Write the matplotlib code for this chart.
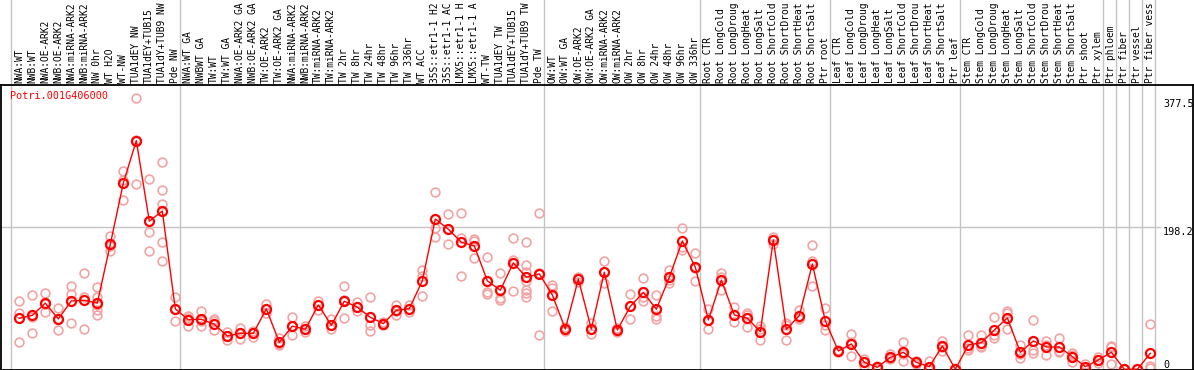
import matplotlib
matplotlib.use('Agg')
from matplotlib import pyplot as plt
from matplotlib import transforms

# sample names along the top (cut at 14 chars as in the source)
labels = [
  'NWA:WT', 'NWB:WT', 'NWA:OE-ARK2', 'NWB:OE-ARK2', 'NWA:miRNA-ARK2',
  'NWB:miRNA-ARK2', 'NW 0hr', 'WT H2O', 'WT-NW', 'TUA1dEY NW',
  'TUA1dEY+TUB15', 'TUA1dY+TUB9 NW', 'Pde NW',
  'NWA:WT GA', 'NWBWT GA', 'TW:WT', 'TW:WT GA', 'NWA:OE-ARK2 GA',
  'NWB:OE-ARK2 GA', 'TW:OE-ARK2', 'TW:OE-ARK2 GA', 'NWA:miRNA-ARK2',
  'NWB:miRNA-ARK2', 'TW:miRNA-ARK2', 'TW:miRNA-ARK2', 'TW 2hr', 'TW 8hr',
  'TW 24hr', 'TW 48hr', 'TW 96hr', 'TW 336hr', 'WT ACC', '35S::etr1-1 H2',
  '35S::etr1-1 AC', 'LMX5::etr1-1 H', 'LMX5::etr1-1 A', 'WT-TW',
  'TUA1dEY TW', 'TUA1dEY+TUB15', 'TUA1dY+TUB9 TW', 'Pde TW',
  'OW:WT', 'OW:WT GA', 'OW:OE-ARK2', 'OW:OE-ARK2 GA', 'OW:miRNA-ARK2',
  'OW:miRNA-ARK2', 'OW 2hr', 'OW 8hr', 'OW 24hr', 'OW 48hr', 'OW 96hr',
  'OW 336hr',
  'Root CTR', 'Root LongCold', 'Root LongDroug', 'Root LongHeat',
  'Root LongSalt', 'Root ShortCold', 'Root ShortDrou', 'Root ShortHeat',
  'Root ShortSalt', 'Ptr root',
  'Leaf CTR', 'Leaf LongCold', 'Leaf LongDroug', 'Leaf LongHeat',
  'Leaf LongSalt', 'Leaf ShortCold', 'Leaf ShortDrou', 'Leaf ShortHeat',
  'Leaf ShortSalt', 'Ptr leaf',
  'Stem CTR', 'Stem LongCold', 'Stem LongDroug', 'Stem LongHeat',
  'Stem LongSalt', 'Stem ShortCold', 'Stem ShortDrou', 'Stem ShortHeat',
  'Stem ShortSalt', 'Ptr shoot', 'Ptr xylem',
  'Ptr phloem', 'Ptr fiber', 'Ptr vessel', 'Ptr fiber vess',
]

means = [
  72, 76, 93, 71, 96, 97, 93, 175, 260, 319, 207, 221, 85,
  70, 70.5, 63.6, 47.3, 51, 51, 85, 38.5, 61, 56.6, 90.5, 62.2, 95.6,
  87.3, 73.3, 64.5, 83, 85.3, 124, 210, 195.8, 177.7, 172.6, 124, 111,
  149, 129, 133.6,
  104.4, 57, 126.6, 57, 136, 55.7, 88.6, 108, 84.5, 129, 179.5, 143,
  69.6, 125, 76.5, 72, 53.3, 181, 56.6, 75.6, 147.5, 68.2,
  26.4, 36.2, 10.7, 3.7, 17.6, 24.6, 10.7, 4.6, 33.4, 1,
  34.8, 38, 55.7, 72.4, 24.6, 40.4, 32, 32, 18.6, 4.6, 13.9,
  24.6, 1, 1, 23.2,
]

# replicate values per sample
reps = [
  [96, 79, 39.4], [104.4, 74.2, 51], [106.7, 91.4, 80.3], [85.8, 71.5, 55.7],
  [116.9, 105.8, 65.4], [135, 102, 57], [115, 102, 90.5, 83.5, 76],
  [186.9, 172, 166], [277, 264.4, 236.1], [378, 319.7, 258.4],
  [265.8, 191.6, 165.2], [289.5, 250.5, 231.4, 177.7, 151.3],
  [101.6, 85, 68.2],
  [75.6, 72, 61.2], [82.6, 68, 60.8], [70.5, 68.6, 55.7], [52.5, 47.3, 42.2],
  [58.9, 51.5, 42.7], [54.7, 52, 46.3], [91.4, 84.9, 79.7], [44.1, 36.6, 34.8],
  [73.3, 60.8, 48.3], [61.2, 56.6, 52.9], [96, 90.5, 83.5], [70.5, 62.2, 56.6],
  [116.9, 97.1, 72.8], [95, 87.3, 82.6], [101.2, 62.6, 54.7], [66.4, 64.5, 62.2],
  [90.5, 82.5, 76.1], [90.5, 85.3, 80.3], [139.2, 130.8, 103],
  [247.7, 197.2, 184.7], [216.7, 195.8, 174.9], [218.1, 184.1, 130.8],
  [182.3, 180.1, 155.4], [157.7, 108.2, 105.8], [135, 99.8, 97.4],
  [183.7, 153.1, 109.9], [177.7, 146.1, 136.8, 124.3, 111.3, 106.7, 101.6],
  [218.1, 134.4, 48.3],
  [118.3, 114.5, 82.1], [60, 57, 54], [130, 126.6, 123], [65, 57, 49.6],
  [151.3, 136, 120.6], [58, 55.7, 53], [105.8, 88.6, 71], [127.6, 101.2, 96],
  [104.4, 75.6, 71], [139.2, 125.2, 121.5], [197.2, 171.6, 167],
  [162.8, 142.5, 123.4],
  [84.9, 69.6, 57], [135.4, 129, 111.3], [88.1, 76.5, 66.4], [79.7, 76, 59.4],
  [61.2, 57, 41.7], [185.5, 180.9, 175.3], [65.5, 62.6, 41.7],
  [83.5, 72.8, 70.5], [174, 152.1, 116.9], [85.8, 63.1, 55.7],
  [28, 26.4, 25], [49.6, 39.5, 19.5], [14.9, 11, 6], [5.6, 3.7, 1.9],
  [21.8, 16, 14.9], [38.5, 22.8, 12.5], [12.9, 10.7, 8.3], [12.5, 1, 0.3],
  [40.8, 32, 26.9], [1, 1, 1],
  [48.3, 31, 27.8], [48.7, 33.7, 31.6], [73.3, 48.7, 44.1], [82.6, 78.9, 56.6],
  [34.8, 22.7, 16.3], [69.6, 27.8, 23.2], [40.8, 34.7, 20.5],
  [44.1, 26.4, 25.5], [23.2, 21, 11.6], [8.3, 2.8, 2.7], [18.6, 13.9, 9.3],
  [33.4, 32.4, 8.3], [1, 1, 1], [1, 1, 1], [63.6, 5.6, 2.8],
]

gene = 'Potri.001G406000'
group_ends = [-1, 12, 40, 52, 62, 72, 83, 84, 85, 86, 87]
ymax = 377.5
ymid = 198.2

W, H = 1194, 370
MONO = 'DejaVu Sans Mono'
FS = 6.9

fig = plt.figure(figsize=(W / 100, H / 100), dpi=100)
ax = fig.add_axes([1 / W, 0, 1192 / W, 285 / H])

for i, r in enumerate(reps):
  ax.plot([i] * len(r), r, 'o', mfc='none', mec='#f2a4a4', ms=6.3, mew=1.2,
          zorder=2, clip_on=False)
ax.plot(range(len(means)), means, '-', color='red', lw=1, zorder=3)
ax.plot(range(len(means)), means, 'o', mfc='none', mec='red', ms=6.5,
        mew=1.6, zorder=4)

ax.set_xlim(-1.408, 90.28)
ax.set_ylim(0, ymax * 1.05)
ax.set_xticks([])
ax.set_yticks([])
for s in ax.spines.values():
  s.set_color('black')
  s.set_linewidth(1.3)

ax.axhline(ymid, xmax=1159 / 1192, color='#c4c4c4', lw=1, zorder=1)
for g in group_ends:
  ax.axvline(g + 0.37, ymin=0, ymax=H / 285, color='#c4c4c4', lw=1,
             clip_on=False, zorder=1)

top = transforms.blended_transform_factory(ax.transData, ax.transAxes)
for i, lab in enumerate(labels):
  ax.text(i, 1 + 2 / 285, lab, transform=top, rotation=90, ha='center',
          va='bottom', family=MONO, fontsize=FS)

ax.text(9 / 1192, 1 - 6 / 285, gene, transform=ax.transAxes, color='red',
        va='top', ha='left', family=MONO, fontsize=7.3)

side = transforms.blended_transform_factory(ax.transAxes, ax.transData)
ax.text(1162 / 1192, ymax, '377.5', transform=side, va='top', family=MONO,
        fontsize=7.3)
ax.text(1162 / 1192, ymid, '198.2', transform=side, va='top', family=MONO,
        fontsize=7.3)
ax.text(1162 / 1192, 0, '0', transform=side, va='bottom', family=MONO,
        fontsize=7.3)

fig.savefig('out.png', dpi=100)
